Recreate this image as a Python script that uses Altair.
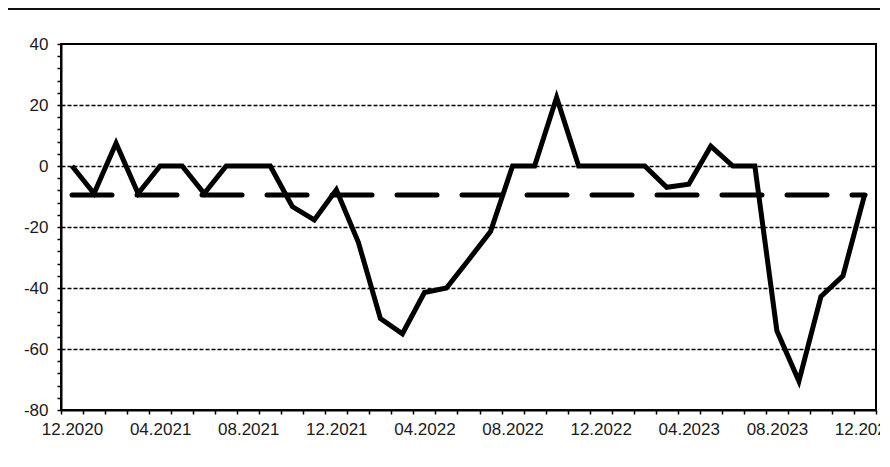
import altair as alt
import pandas as pd

# Monthly categories 12.2020 .. 12.2023
months = [
    "12.2020", "01.2021", "02.2021", "03.2021", "04.2021", "05.2021", "06.2021",
    "07.2021", "08.2021", "09.2021", "10.2021", "11.2021", "12.2021", "01.2022",
    "02.2022", "03.2022", "04.2022", "05.2022", "06.2022", "07.2022", "08.2022",
    "09.2022", "10.2022", "11.2022", "12.2022", "01.2023", "02.2023", "03.2023",
    "04.2023", "05.2023", "06.2023", "07.2023", "08.2023", "09.2023", "10.2023",
    "11.2023", "12.2023",
]
values = [
    0, -9, 7.5, -9, 0, 0, -9, 0, 0, 0,
    -13.3, -17.7, -7.8, -25, -50, -55, -41.5, -40, -30.8, -21.5,
    0, 0, 22.5, 0, 0, 0, 0, -7, -6, 6.5,
    0, 0, -54, -70.5, -42.8, -36, -9,
]
mean_level = -9.5
tick_labels = ["12.2020", "04.2021", "08.2021", "12.2021", "04.2022",
               "08.2022", "12.2022", "04.2023", "08.2023", "12.2023"]

df = pd.DataFrame({
    "month": months,
    "pos": [i + 0.5 for i in range(len(months))],
    "value": values,
    "mean": [mean_level] * len(months),
})

W, H = 815, 366
FONT = "Liberation Sans"
label_array = "[" + ",".join("'" + t + "'" for t in tick_labels) + "]"

x_enc = alt.X(
    "pos:Q",
    scale=alt.Scale(domain=[0, len(months)], nice=False, zero=False),
    axis=alt.Axis(
        title=None,
        values=list(range(len(months) + 1)),
        tickCount=200,
        labelExpr=f"datum.value % 4 == 0 && datum.value < {len(months)} ? {label_array}[datum.value / 4] : ''",
        labelOffset=11,
        labelOverlap=False,
        labelFlush=False,
        labelBound=False,
        labelPadding=7,
        tickSize=4,
        tickWidth=1.5,
        tickColor="black",
        domainColor="black",
        domainWidth=2,
        grid=False,
    ),
)

y_axis = alt.Axis(
    title=None,
    values=list(range(-80, 41, 4)),
    tickCount=200,
    labelExpr="datum.value % 20 == 0 ? '' + datum.value : ''",
    labelOverlap=False,
    labelFlush=False,
    labelPadding=9,
    tickSize=4,
    tickWidth=1.5,
    tickColor="black",
    domainColor="black",
    domainWidth=2,
    grid=True,
    gridColor="black",
    gridDash=[4, 2],
    gridWidth=1.4,
    gridOpacity={
        "condition": {
            "test": "datum.value % 20 == 0 && datum.value > -80 && datum.value < 40",
            "value": 1,
        },
        "value": 0,
    },
)

base = alt.Chart(df)

mean_line = base.mark_line(
    color="black", strokeWidth=5, strokeDash=[40, 25], strokeCap="round"
).encode(
    x=x_enc,
    y=alt.Y("mean:Q", scale=alt.Scale(domain=[-80, 40], nice=False), axis=y_axis),
)

main_line = base.mark_line(color="black", strokeWidth=5, strokeJoin="miter").encode(
    x="pos:Q",
    y="value:Q",
)

frame_df = pd.DataFrame({"k": [0]})
top_border = alt.Chart(frame_df).mark_rule(color="#111111", strokeWidth=2).encode(
    x=alt.value(-53), x2=alt.value(W + 4), y=alt.value(-35)
)

chart = (
    alt.layer(mean_line, main_line, top_border)
    .properties(
        width=W,
        height=H,
        padding={"left": 53, "top": 36, "right": 4, "bottom": 35},
        autosize=alt.AutoSizeParams(type="none"),
        background="white",
    )
    .configure_view(stroke="black", strokeWidth=2)
    .configure_axis(
        labelFont=FONT,
        labelFontSize=17,
        labelColor="#1a1a1a",
    )
)

chart.save("out.html", embed_options={"renderer": "svg", "actions": False})
